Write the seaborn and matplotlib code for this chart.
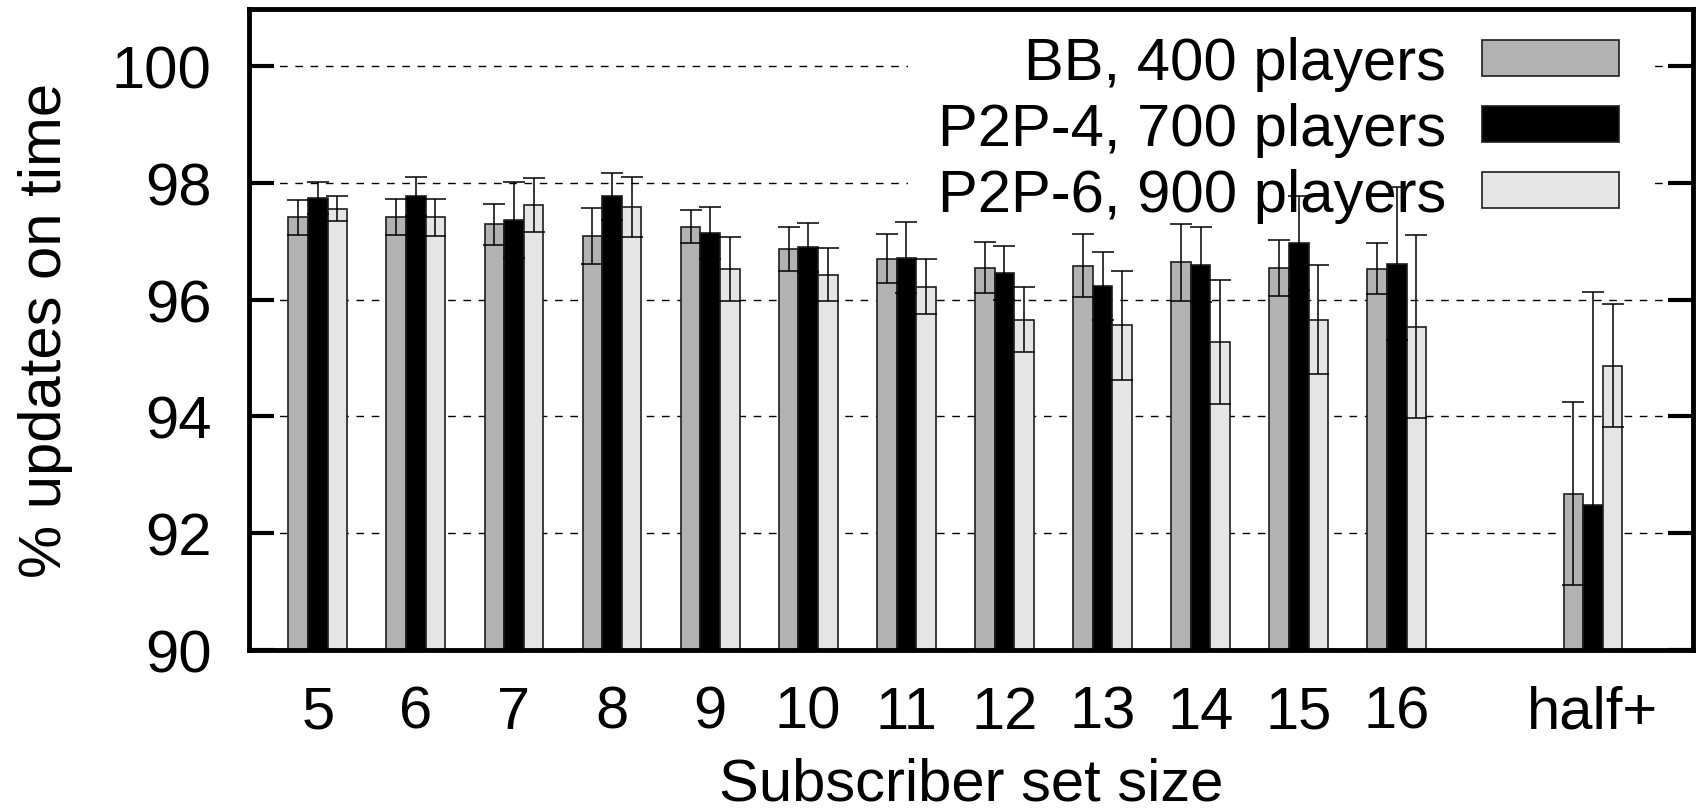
import numpy as np
import pandas as pd
import matplotlib
matplotlib.use("Agg")
import matplotlib.pyplot as plt
import seaborn as sns

# ---- data ----
categories = ["5", "6", "7", "8", "9", "10", "11", "12", "13", "14", "15", "16", "half+"]
series = ["BB, 400 players", "P2P-4, 700 players", "P2P-6, 900 players"]
bb_vals = [97.41, 97.42, 97.29, 97.09, 97.25, 96.87, 96.70, 96.55, 96.58, 96.64, 96.54, 96.53, 92.68]
bb_err = [0.30, 0.31, 0.35, 0.48, 0.28, 0.37, 0.42, 0.44, 0.54, 0.66, 0.48, 0.44, 1.57]
p4_vals = [97.74, 97.77, 97.36, 97.77, 97.14, 96.90, 96.72, 96.46, 96.23, 96.60, 96.97, 96.62, 92.48]
p4_err = [0.28, 0.34, 0.65, 0.40, 0.44, 0.42, 0.61, 0.46, 0.58, 0.64, 0.81, 1.31, 3.66]
p6_vals = [97.56, 97.41, 97.62, 97.59, 96.53, 96.43, 96.22, 95.66, 95.56, 95.28, 95.66, 95.54, 94.87]
p6_err = [0.21, 0.32, 0.46, 0.51, 0.55, 0.46, 0.47, 0.56, 0.94, 1.06, 0.93, 1.57, 1.05]
y_ticks = [90, 92, 94, 96, 98, 100]

colors = ["#b2b2b2", "#000000", "#e5e5e5"]

# layout: one empty slot before the "half+" group
pos = np.arange(len(categories), dtype=float)
pos[categories.index("half+"):] += 1.0

rows = []
for name, vals in zip(series, [bb_vals, p4_vals, p6_vals]):
    for p, v in zip(pos, vals):
        rows.append({"pos": p, "value": v, "series": name})
df = pd.DataFrame(rows)
errs = {series[0]: bb_err, series[1]: p4_err, series[2]: p6_err}

sns.set_style("white")
plt.rcParams["font.family"] = ["Liberation Sans", "DejaVu Sans"]
plt.rcParams["text.color"] = "black"
plt.rcParams["axes.labelcolor"] = "black"
plt.rcParams["xtick.color"] = "black"
plt.rcParams["ytick.color"] = "black"
FS = 43

fig = plt.figure(figsize=(16.99, 8.12), dpi=100)
ax = fig.add_axes([0.1466, 0.1983, 0.9965 - 0.1466, 0.9877 - 0.1983])

sns.barplot(data=df, x="pos", y="value", hue="series", hue_order=series,
            palette=colors, native_scale=True, width=0.6, gap=0,
            errorbar=None, edgecolor="#1e1e1e", linewidth=1.2, ax=ax, zorder=2)

for cont, name in zip(ax.containers, series):
    xc = [b.get_x() + b.get_width() / 2 for b in cont]
    hs = [b.get_height() for b in cont]
    ax.errorbar(xc, hs, yerr=errs[name], fmt="none", ecolor="black",
                elinewidth=1.1, capsize=8, capthick=1.1, zorder=3)

ax.set_ylim(90, 100.98)
ax.set_xlim(-0.70, 14.02)
ax.set_yticks(y_ticks)
ax.set_yticklabels([str(t) for t in y_ticks], fontsize=FS)
ax.set_xticks(pos)
ax.set_xticklabels(categories, fontsize=FS)
ax.tick_params(axis="x", length=0, pad=25)
ax.tick_params(axis="y", direction="in", length=18, width=3, pad=27,
               left=True, right=True)
ax.yaxis.grid(True, linestyle=(0, (5.5, 5.5)), linewidth=1.0, color="black")
ax.set_axisbelow(True)
for s in ax.spines.values():
    s.set_linewidth(3.5)
    s.set_color("black")
    s.set_zorder(4)

ax.set_xlabel("Subscriber set size", fontsize=FS, labelpad=12)
ax.set_ylabel("% updates on time", fontsize=FS, labelpad=28)

handles, labels = ax.get_legend_handles_labels()
if ax.get_legend() is not None:
    ax.get_legend().remove()
leg = ax.legend(handles, labels, loc="upper right", bbox_to_anchor=(0.9695, 1.005),
                markerfirst=False, fontsize=FS, frameon=True, facecolor="white",
                edgecolor="none", framealpha=1.0, fancybox=False,
                handlelength=2.3, handleheight=0.55, handletextpad=0.6,
                labelspacing=0.19, borderpad=0.5, borderaxespad=0.0)
leg.set_zorder(1.5)

fig.savefig("out.png", dpi=100)
